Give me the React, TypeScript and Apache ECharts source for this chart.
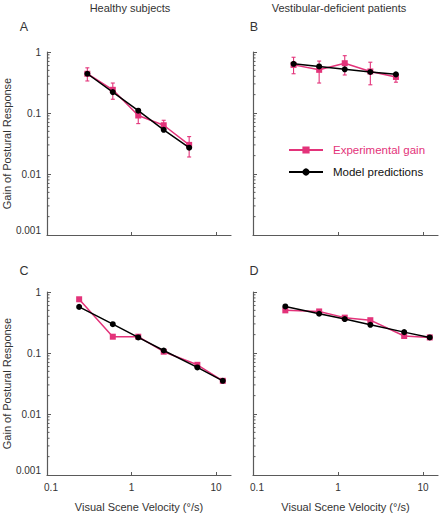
import React, { useEffect, useRef } from "react";
import * as echarts from "echarts";

// ---- data ----
const xSteps5 = [0.3, 0.6, 1.2, 2.4, 4.8];
const healthyExp = [0.44, 0.24, 0.091, 0.063, 0.03];
const healthyExpLow = [0.335, 0.168, 0.067, 0.052, 0.019];
const healthyExpHigh = [0.55, 0.31, 0.115, 0.076, 0.041];
const healthyModel = [0.44, 0.22, 0.109, 0.053, 0.027];

const patientsExp = [0.615, 0.51, 0.655, 0.48, 0.39];
const patientsExpLow = [0.44, 0.31, 0.42, 0.29, 0.32];
const patientsExpHigh = [0.82, 0.71, 0.87, 0.68, 0.45];
const patientsModel = [0.64, 0.58, 0.52, 0.47, 0.43];

const xSteps6 = [0.24, 0.6, 1.2, 2.4, 6, 12];
const healthyExp2 = [0.76, 0.185, 0.185, 0.105, 0.064, 0.035];
const healthyModel2 = [0.57, 0.297, 0.18, 0.11, 0.058, 0.035];
const patientsExp2 = [0.5, 0.48, 0.38, 0.345, 0.19, 0.18];
const patientsModel2 = [0.58, 0.44, 0.36, 0.29, 0.22, 0.18];

const xTicks = [0.1, 1, 10];
const yTicks = [0.001, 0.01, 0.1, 1];
const yMinorTicks = [
  0.002, 0.003, 0.004, 0.005, 0.006, 0.007, 0.008, 0.009,
  0.02, 0.03, 0.04, 0.05, 0.06, 0.07, 0.08, 0.09,
  0.2, 0.3, 0.4, 0.5, 0.6, 0.7, 0.8, 0.9,
];

const columnTitles = ["Healthy subjects", "Vestibular-deficient patients"];
const panelLetters = ["A", "B", "C", "D"];
const SERIES_EXP = "Experimental gain";
const SERIES_MODEL = "Model predictions";
const X_NAME = "Visual Scene Velocity (°/s)";
const Y_NAME = "Gain of Postural Response";

// ---- style ----
const FONT = "'Liberation Sans', Arial, Helvetica, sans-serif";
const PINK = "#e3337a";
const AXIS = "#5a5a5a";
const TEXT = "#333";

const logText = (v: number) => {
  const e = Math.round(Math.log10(v));
  return e >= 0 ? String(Math.pow(10, e)) : Math.pow(10, e).toFixed(-e);
};
const fmtX = (v: number) => {
  const t = logText(v);
  return Math.round(Math.log10(v)) === -1 ? "{first|" + t + "}" : t;
};
const fmtY = (v: number) => {
  const t = logText(v);
  return Math.round(Math.log10(v)) === -3 ? "{low|" + t + "}" : t;
};

const panels = [
  { xs: xSteps5, exp: healthyExp, lo: healthyExpLow, hi: healthyExpHigh, model: healthyModel },
  { xs: xSteps5, exp: patientsExp, lo: patientsExpLow, hi: patientsExpHigh, model: patientsModel },
  { xs: xSteps6, exp: healthyExp2, lo: null, hi: null, model: healthyModel2 },
  { xs: xSteps6, exp: patientsExp2, lo: null, hi: null, model: patientsModel2 },
];

const gridBoxes = [
  { left: 47, top: 52, width: 184, height: 183 },
  { left: 253, top: 52, width: 185, height: 183 },
  { left: 47, top: 292, width: 184, height: 183 },
  { left: 253, top: 292, width: 185, height: 183 },
];

function buildOption() {
  const grid = gridBoxes.map((g) => ({ ...g, containLabel: false, outerBoundsMode: "none" }));
  const xAxis = gridBoxes.map((_, i) => ({
    type: "log",
    logBase: 10,
    gridIndex: i,
    min: 0.1,
    max: 15,
    axisLine: { show: true, lineStyle: { color: AXIS, width: 1.2 } },
    axisTick: { show: true, inside: true, length: 3, customValues: xTicks, lineStyle: { color: AXIS } },
    minorTick: { show: false },
    splitLine: { show: false },
    axisLabel: {
      show: i >= 2,
      customValues: xTicks,
      formatter: fmtX,
      fontSize: 10,
      fontFamily: FONT,
      color: TEXT,
      margin: 7,
      rich: { first: { fontSize: 10, fontFamily: FONT, color: TEXT, padding: [0, 0, 0, 8] } },
    },
    name: i >= 2 ? X_NAME : "",
    nameLocation: "middle",
    nameGap: 26,
    nameTextStyle: { fontSize: 11, fontFamily: FONT, color: TEXT },
  }));
  const yAxis = gridBoxes.map((_, i) => ({
    type: "log",
    logBase: 10,
    gridIndex: i,
    min: 0.001,
    max: 1,
    axisLine: { show: true, lineStyle: { color: AXIS, width: 1.2 } },
    axisTick: { show: true, inside: true, length: 4, customValues: yTicks, lineStyle: { color: AXIS } },
    minorTick: { show: false },
    splitLine: { show: false },
    axisLabel: {
      show: i % 2 === 0,
      customValues: yTicks,
      formatter: fmtY,
      fontSize: 10,
      fontFamily: FONT,
      color: TEXT,
      margin: 6,
      rich: { low: { fontSize: 10, fontFamily: FONT, color: TEXT, padding: [0, 0, 9, 0] } },
    },
    name: i % 2 === 0 ? Y_NAME : "",
    nameLocation: "middle",
    nameGap: 30,
    nameTextStyle: { fontSize: 11, fontFamily: FONT, color: TEXT },
  }));

  const series: any[] = [];
  panels.forEach((p, i) => {
    // minor ticks on the y axis
    series.push({
      type: "custom",
      xAxisIndex: i,
      yAxisIndex: i,
      silent: true,
      clip: false,
      z: 1,
      data: yMinorTicks.map((v) => [0.1, v]),
      encode: { x: 0, y: 1 },
      renderItem: (_params: any, api: any) => {
        const pt = api.coord([api.value(0), api.value(1)]);
        return {
          type: "line",
          shape: { x1: pt[0], y1: pt[1], x2: pt[0] + 2.5, y2: pt[1] },
          style: { stroke: AXIS, lineWidth: 1 },
        };
      },
    });
    if (p.lo && p.hi) {
      const lo = p.lo;
      const hi = p.hi;
      series.push({
        type: "custom",
        xAxisIndex: i,
        yAxisIndex: i,
        silent: true,
        z: 2,
        data: p.xs.map((x, k) => [x, lo[k], hi[k]]),
        encode: { x: 0, y: [1, 2] },
        renderItem: (_params: any, api: any) => {
          const a = api.coord([api.value(0), api.value(1)]);
          const b = api.coord([api.value(0), api.value(2)]);
          const w = 2;
          const st = { stroke: PINK, lineWidth: 1.1 };
          return {
            type: "group",
            children: [
              { type: "line", shape: { x1: a[0], y1: a[1], x2: b[0], y2: b[1] }, style: st },
              { type: "line", shape: { x1: a[0] - w, y1: a[1], x2: a[0] + w, y2: a[1] }, style: st },
              { type: "line", shape: { x1: b[0] - w, y1: b[1], x2: b[0] + w, y2: b[1] }, style: st },
            ],
          };
        },
      });
    }
    series.push({
      type: "line",
      name: SERIES_EXP,
      xAxisIndex: i,
      yAxisIndex: i,
      z: 3,
      data: p.xs.map((x, k) => [x, p.exp[k]]),
      symbol: "rect",
      symbolSize: 6,
      showSymbol: true,
      lineStyle: { color: PINK, width: 1.5 },
      itemStyle: { color: PINK },
    });
    series.push({
      type: "line",
      name: SERIES_MODEL,
      xAxisIndex: i,
      yAxisIndex: i,
      z: 4,
      data: p.xs.map((x, k) => [x, p.model[k]]),
      symbol: "circle",
      symbolSize: 6,
      showSymbol: true,
      lineStyle: { color: "#000", width: 1.5 },
      itemStyle: { color: "#000" },
    });
  });

  const textStyle = (s: any) => ({ fontFamily: FONT, fill: TEXT, ...s });
  const graphic = [
    { type: "text", x: 130, y: 8, style: textStyle({ text: columnTitles[0], fontSize: 11, align: "center", verticalAlign: "middle" }) },
    { type: "text", x: 339, y: 8, style: textStyle({ text: columnTitles[1], fontSize: 11, align: "center", verticalAlign: "middle" }) },
    { type: "text", x: 24, y: 27, style: textStyle({ text: panelLetters[0], fontSize: 12.5, align: "center", verticalAlign: "middle" }) },
    { type: "text", x: 254, y: 27, style: textStyle({ text: panelLetters[1], fontSize: 12.5, align: "center", verticalAlign: "middle" }) },
    { type: "text", x: 24, y: 271, style: textStyle({ text: panelLetters[2], fontSize: 12.5, align: "center", verticalAlign: "middle" }) },
    { type: "text", x: 254, y: 271, style: textStyle({ text: panelLetters[3], fontSize: 12.5, align: "center", verticalAlign: "middle" }) },
  ];

  return {
    animation: false,
    backgroundColor: "#fff",
    textStyle: { fontFamily: FONT },
    grid,
    xAxis,
    yAxis,
    series,
    graphic,
    legend: {
      orient: "vertical",
      left: 283,
      top: 139,
      itemWidth: 34,
      itemHeight: 9,
      itemGap: 10,
      selectedMode: false,
      data: [
        { name: SERIES_EXP, textStyle: { color: PINK } },
        { name: SERIES_MODEL, textStyle: { color: "#111" } },
      ],
      textStyle: { fontSize: 11.5, fontFamily: FONT, padding: [0, 0, 0, 5] },
    },
  };
}

export default function App() {
  const ref = useRef<HTMLDivElement>(null);
  useEffect(() => {
    document.body.style.margin = "0";
    if (!ref.current) return;
    const chart = echarts.init(ref.current, undefined, { renderer: "svg" });
    chart.setOption(buildOption() as any);
    return () => chart.dispose();
  }, []);
  return <div ref={ref} style={{ width: 442, height: 514 }} />;
}
